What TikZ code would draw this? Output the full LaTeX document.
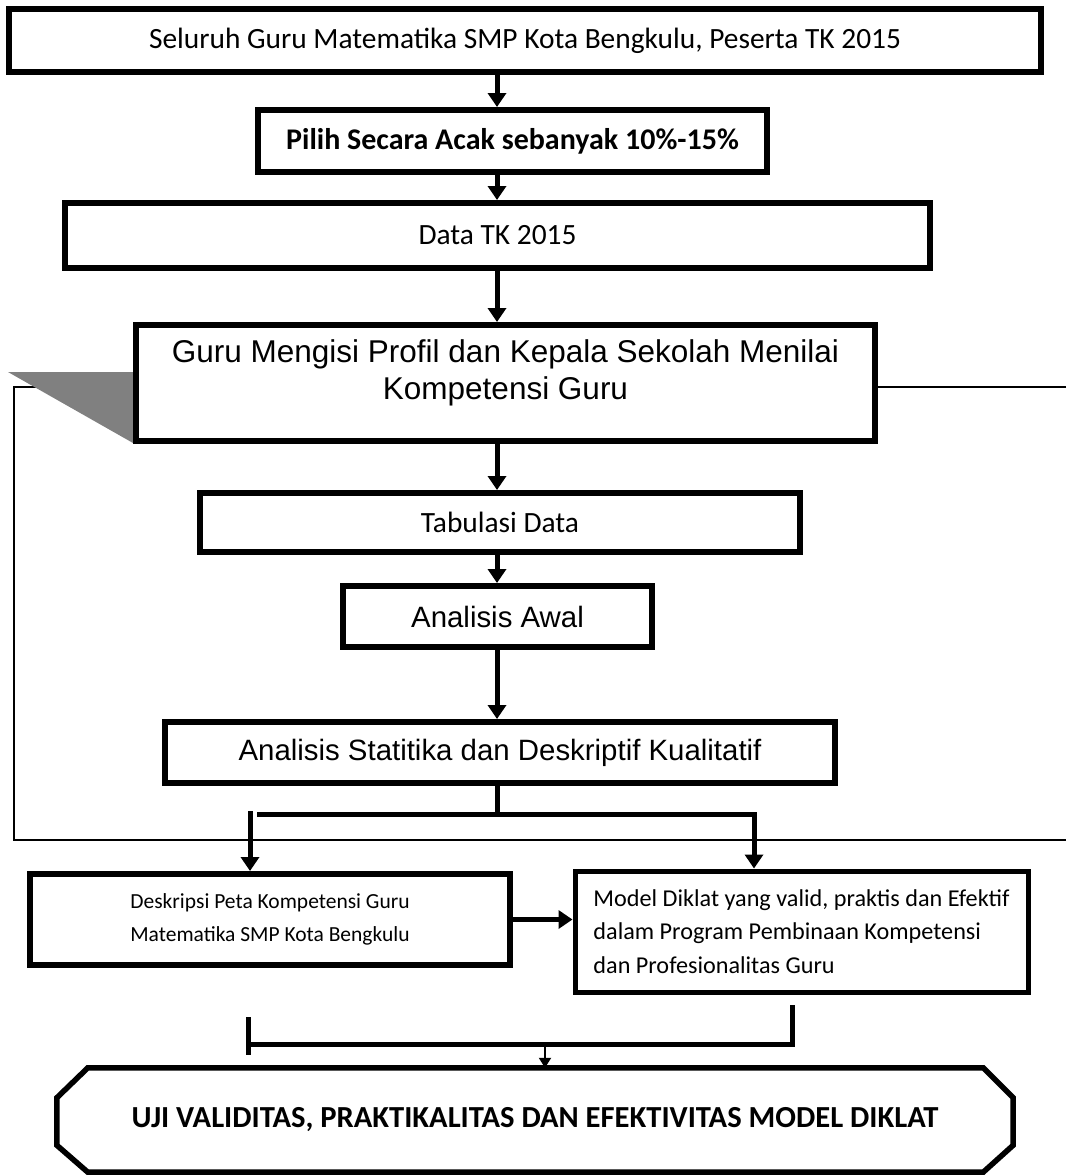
\documentclass[tikz,border=0pt]{standalone}
\usepackage{fontspec}
\setmainfont{Carlito}
\newfontfamily\arialfont{Liberation Sans}
\usetikzlibrary{arrows.meta}

\begin{document}
\begin{tikzpicture}[x=1pt, y=-1pt,
  box/.style={draw=black, fill=white, line width=6pt, inner sep=0pt, align=center},
  flow/.style={line width=5pt, -{Triangle[length=14pt, width=18pt]}},
  tinyflow/.style={line width=2pt, -{Triangle[length=10pt, width=12pt]}},
  bar/.style={line width=5pt},
  frameline/.style={line width=2pt},
  big/.style={font=\fontsize{29.4}{35}\selectfont},
  small/.style={font=\fontsize{21.5}{33.7}\selectfont}]

\useasboundingbox (0,0) rectangle (1066,1175);

%─────────────
% Controls
%─────────────
\coordinate (spine) at (497,0);   % x of the main column of arrows

%─────────────
% Thin frame and grey shadow (behind the boxes)
%─────────────
\draw[frameline] (1066,387) -- (14,387) -- (14,840) -- (1066,840);
\fill[black!50] (8,372) -- (133,372) -- (133,443) -- cycle;

%─────────────
% Boxes
%─────────────
\node[box, big, minimum width=1032, minimum height=63] (seluruh) at (525,40.5)
  {Seluruh Guru Matematika SMP Kota Bengkulu, Peserta TK 2015};
\node[box, minimum width=509, minimum height=62, font=\bfseries\fontsize{30}{36}\selectfont] (pilih) at (512.5,141)
  {Pilih Secara Acak sebanyak 10\%-15\%};
\node[box, big, minimum width=865, minimum height=65] (data) at (497.5,235.5)
  {Data TK 2015};
\node[box, minimum width=739, minimum height=116, text depth=27pt, font=\arialfont\fontsize{31.5}{37}\selectfont] (profil) at (505.5,383)
  {Guru Mengisi Profil dan Kepala Sekolah Menilai\\Kompetensi Guru};
\node[box, big, minimum width=600, minimum height=59] (tabulasi) at (500,522.5)
  {Tabulasi Data};
\node[box, minimum width=309, minimum height=61, font=\arialfont\fontsize{29.4}{35}\selectfont] (awal) at (497.5,616.5)
  {Analisis Awal};
\node[box, minimum width=670, minimum height=61, font=\arialfont\fontsize{29.4}{35}\selectfont] (statistik) at (500,752.5)
  {Analisis Statitika dan Deskriptif Kualitatif};
\node[box, small, align=left, minimum width=480, minimum height=91] (deskripsi) at (270,919.5)
  {Deskripsi Peta Kompetensi Guru\\Matematika SMP Kota Bengkulu};
\node[box, align=left, line width=5pt, minimum width=453, minimum height=121, font=\fontsize{24.2}{33.5}\selectfont] (model) at (801.5,931.5)
  {Model Diklat yang valid, praktis dan Efektif\\dalam Program Pembinaan Kompetensi\\dan Profesionalitas Guru};

% octagon: plain node for the text, outline drawn from its corners
\node[minimum width=956, minimum height=104, inner sep=0pt, font=\bfseries\fontsize{30.6}{36}\selectfont] (uji) at (535,1120)
  {UJI VALIDITAS, PRAKTIKALITAS DAN EFEKTIVITAS MODEL DIKLAT};
\draw[line width=5.5pt, line join=miter]
  ([xshift=31pt]uji.north west) -- ([xshift=-30pt]uji.north east)
  -- ([yshift=-30pt]uji.north east) -- ([yshift=27pt]uji.south east)
  -- ([xshift=-30pt]uji.south east) -- ([xshift=31pt]uji.south west)
  -- ([yshift=27pt]uji.south west) -- ([yshift=-30pt]uji.north west) -- cycle;

%─────────────
% Main column of arrows
%─────────────
\draw[flow] (seluruh.south -| spine) -- (pilih.north -| spine);
\draw[flow] (pilih.south -| spine) -- (data.north -| spine);
\draw[flow] (data.south -| spine) -- (profil.north -| spine);
\draw[flow] (profil.south -| spine) -- (tabulasi.north -| spine);
\draw[flow] (tabulasi.south -| spine) -- (awal.north -| spine);
\draw[flow] (awal.south -| spine) -- (statistik.north -| spine);

%─────────────
% Split into the two results
%─────────────
\coordinate (split) at (497,814);
\coordinate (splitL) at (250,811);
\coordinate (barL) at (257,814);
\coordinate (splitR) at (754,814);
\draw[bar] (statistik.south -| spine) -- (split);
\draw[flow] (barL) -- (splitR) -- (model.north -| splitR);
\draw[flow] (splitL) -- (deskripsi.north -| splitL);
\draw[flow] (deskripsi.east) -- (model.west |- deskripsi.east);

%─────────────
% Join towards the test
%─────────────
\coordinate (joinTopL) at (248,1017);
\coordinate (joinBotL) at (248,1055);
\coordinate (joinL) at (250,1044);
\coordinate (joinR) at (792,1044);
\coordinate (joinTopR) at (792,1005);
\coordinate (join) at (545,1044);
\draw[bar] (joinTopL) -- (joinBotL);
\draw[bar] (joinL) -- (joinR) -- (joinTopR);
\draw[tinyflow] (join) -- (uji.north -| join);

\end{tikzpicture}
\end{document}
